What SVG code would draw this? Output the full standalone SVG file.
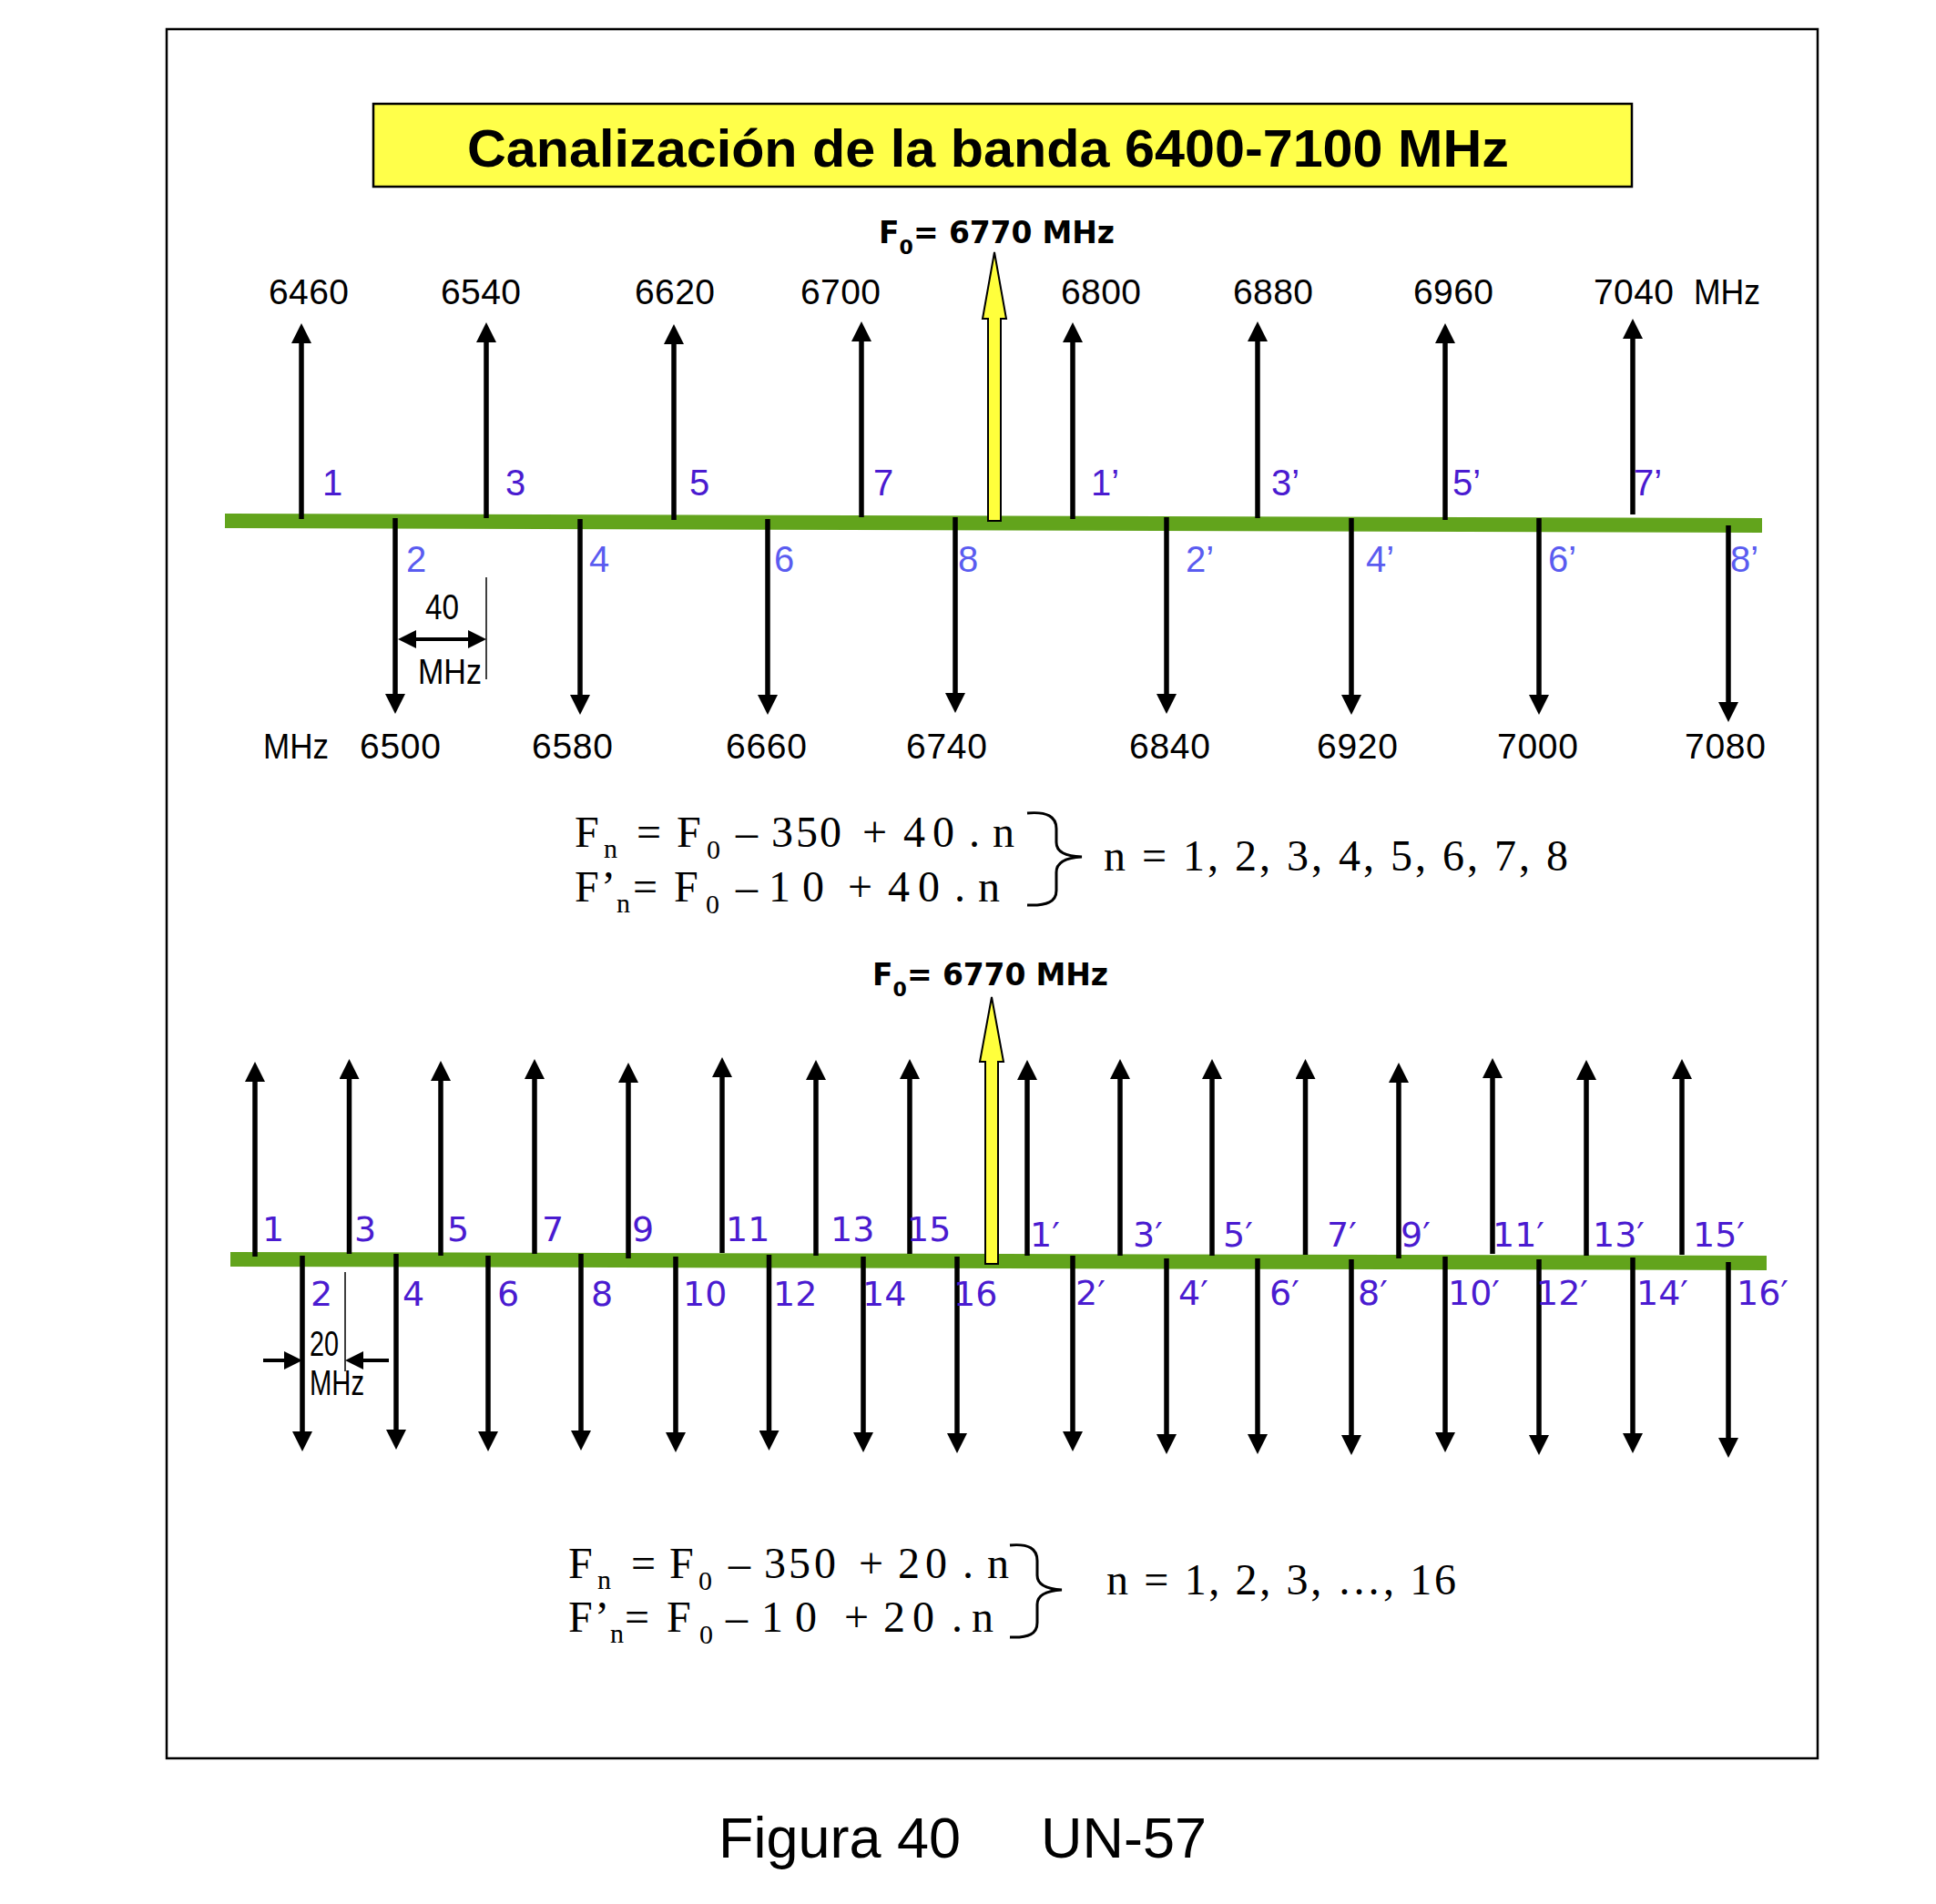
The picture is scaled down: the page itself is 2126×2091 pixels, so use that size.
<svg xmlns="http://www.w3.org/2000/svg" width="2126" height="2091" viewBox="0 0 2126 2091">
<style>
.ar{stroke:#000;stroke-width:5.5;marker-end:url(#ah);fill:none}
.gr{stroke:#62A41C;stroke-width:16;fill:none}
.fq{font-family:"Liberation Sans",Arial,sans-serif;font-size:39px;fill:#000}
.lt1{font-family:"Liberation Sans",Arial,sans-serif;font-size:40px;fill:#4A1BD0}
.lt2{font-family:"Liberation Sans",Arial,sans-serif;font-size:40px;fill:#5A5CF0}
.lb{font-family:"DejaVu Sans",Verdana,sans-serif;font-size:38px;fill:#4A1BD0}
.fm{font-family:"Liberation Serif","Times New Roman",serif;font-size:48px;fill:#000}
.sub{font-size:30px}
.dim{stroke:#000;stroke-width:4;fill:none}
.thin{stroke:#000;stroke-width:1.5;fill:none}
.yl{fill:#FFFF3C;stroke:#000;stroke-width:2}
.f0{font-family:"DejaVu Sans",Verdana,sans-serif;font-weight:bold;font-size:33px;fill:#000}
.br{stroke:#000;stroke-width:3;fill:none}
</style>
<defs>
<marker id="ah" markerUnits="userSpaceOnUse" viewBox="0 0 22 22" markerWidth="22" markerHeight="22" refX="4" refY="11" orient="auto"><path d="M0,0 L22,11 L0,22 z" fill="#000"/></marker>
<marker id="ah2" markerUnits="userSpaceOnUse" viewBox="0 0 20 20" markerWidth="20" markerHeight="20" refX="4" refY="10" orient="auto-start-reverse"><path d="M0,0 L20,10 L0,20 z" fill="#000"/></marker>
</defs>
<rect width="2126" height="2091" fill="#fff"/>
<rect id="frame" x="183" y="32" width="1813" height="1899" fill="none" stroke="#000" stroke-width="2.5"/>
<g id="title">
<rect x="410" y="114" width="1382" height="91" fill="#FFFF4A" stroke="#000" stroke-width="2.5"/>
<text x="513" y="183" font-family="Liberation Sans,Arial,sans-serif" font-weight="bold" font-size="58" textLength="1144" lengthAdjust="spacingAndGlyphs">Canalización de la banda 6400-7100 MHz</text>
</g>

<!-- TOP DIAGRAM -->
<g id="top-axis"><line class="gr" x1="247" y1="572" x2="1935" y2="577"/></g>
<g id="top-f0">
<polygon class="yl" points="1085,572 1085,350 1079,350 1092,277 1105,350 1099,350 1099,572"/>
<text class="f0" x="965" y="267">F<tspan font-size="22" y="279">0</tspan><tspan y="267" x="1003" textLength="221" lengthAdjust="spacing">= 6770 MHz</tspan></text>
</g>
<g id="top-connectors">
<line class="ar" x1="331" y1="570" x2="331" y2="373"/>
<line class="ar" x1="534" y1="569" x2="534" y2="372"/>
<line class="ar" x1="740" y1="571" x2="740" y2="374"/>
<line class="ar" x1="946" y1="568" x2="946" y2="371"/>
<line class="ar" x1="1178" y1="570" x2="1178" y2="372"/>
<line class="ar" x1="1381" y1="569" x2="1381" y2="371"/>
<line class="ar" x1="1587" y1="571" x2="1587" y2="373"/>
<line class="ar" x1="1793" y1="565" x2="1793" y2="368"/>
<line class="ar" x1="434" y1="569" x2="434" y2="766"/>
<line class="ar" x1="637" y1="570" x2="637" y2="767"/>
<line class="ar" x1="843" y1="570" x2="843" y2="767"/>
<line class="ar" x1="1049" y1="568" x2="1049" y2="765"/>
<line class="ar" x1="1281" y1="568" x2="1281" y2="766"/>
<line class="ar" x1="1484" y1="569" x2="1484" y2="767"/>
<line class="ar" x1="1690" y1="569" x2="1690" y2="767"/>
<line class="ar" x1="1898" y1="577" x2="1898" y2="775"/>
</g>
<g id="top-channels">
<g id="t1"><text class="lt1" x="354" y="544">1</text><text class="fq" x="295" y="334" textLength="88">6460</text></g>
<g id="t3"><text class="lt1" x="555" y="544">3</text><text class="fq" x="484" y="334" textLength="88">6540</text></g>
<g id="t5"><text class="lt1" x="757" y="544">5</text><text class="fq" x="697" y="334" textLength="88">6620</text></g>
<g id="t7"><text class="lt1" x="959" y="544">7</text><text class="fq" x="879" y="334" textLength="88">6700</text></g>
<g id="t1p"><text class="lt1" x="1198" y="544">1’</text><text class="fq" x="1165" y="334" textLength="88">6800</text></g>
<g id="t3p"><text class="lt1" x="1396" y="544">3’</text><text class="fq" x="1354" y="334" textLength="88">6880</text></g>
<g id="t5p"><text class="lt1" x="1595" y="544">5’</text><text class="fq" x="1552" y="334" textLength="88">6960</text></g>
<g id="t7p"><text class="lt1" x="1794" y="544">7’</text><text class="fq" x="1750" y="334" textLength="88">7040</text><text class="fq" x="1860" y="334" textLength="73" lengthAdjust="spacingAndGlyphs">MHz</text></g>
<g id="t2"><text class="lt2" x="446" y="628">2</text><text class="fq" x="395" y="833" textLength="89">6500</text><text class="fq" x="289" y="833" textLength="72" lengthAdjust="spacingAndGlyphs">MHz</text></g>
<g id="t4"><text class="lt2" x="647" y="628">4</text><text class="fq" x="584" y="833" textLength="89">6580</text></g>
<g id="t6"><text class="lt2" x="850" y="628">6</text><text class="fq" x="797" y="833" textLength="89">6660</text></g>
<g id="t8"><text class="lt2" x="1052" y="628">8</text><text class="fq" x="995" y="833" textLength="89">6740</text></g>
<g id="t2p"><text class="lt2" x="1302" y="628">2’</text><text class="fq" x="1240" y="833" textLength="89">6840</text></g>
<g id="t4p"><text class="lt2" x="1500" y="628">4’</text><text class="fq" x="1446" y="833" textLength="89">6920</text></g>
<g id="t6p"><text class="lt2" x="1700" y="628">6’</text><text class="fq" x="1644" y="833" textLength="89">7000</text></g>
<g id="t8p"><text class="lt2" x="1900" y="628">8’</text><text class="fq" x="1850" y="833" textLength="89">7080</text></g>
</g>
<g id="top-spacing">
<line class="thin" x1="534" y1="634" x2="534" y2="746"/>
<line class="dim" x1="453" y1="702" x2="518" y2="702" marker-start="url(#ah2)" marker-end="url(#ah2)"/>
<text class="fq" x="467" y="680" font-size="37" textLength="37" lengthAdjust="spacingAndGlyphs">40</text>
<text class="fq" x="459" y="751" font-size="38" textLength="70" lengthAdjust="spacingAndGlyphs">MHz</text>
</g>
<g id="top-formula">
<text class="fm" y="930"><tspan x="631">F</tspan><tspan class="sub" x="663" y="942">n</tspan><tspan x="699" y="930">=</tspan><tspan x="743">F</tspan><tspan class="sub" x="776" y="943">0</tspan><tspan x="808" y="930">–</tspan><tspan x="847 874 900">350</tspan><tspan x="947">+</tspan><tspan x="992 1024">40</tspan><tspan x="1064">.</tspan><tspan x="1090">n</tspan></text>
<text class="fm" y="990"><tspan x="631">F</tspan><tspan x="660">’</tspan><tspan class="sub" x="677" y="1002">n</tspan><tspan x="695" y="990">=</tspan><tspan x="740">F</tspan><tspan class="sub" x="775" y="1003">0</tspan><tspan x="808" y="990">–</tspan><tspan x="844 881">10</tspan><tspan x="931">+</tspan><tspan x="975 1008">40</tspan><tspan x="1048">.</tspan><tspan x="1074">n</tspan></text>
<path class="br" d="M1128,893 C1150,891 1160,897 1160,910 L1160,925 C1160,936 1170,940 1188,941 C1170,942 1160,947 1160,958 L1160,978 C1160,990 1150,995 1128,994"/>
<text class="fm" x="1212" y="956" textLength="510" lengthAdjust="spacing">n = 1, 2, 3, 4, 5, 6, 7, 8</text>
</g>

<!-- BOTTOM DIAGRAM -->
<g id="bot-axis"><line class="gr" x1="253" y1="1383" x2="1940" y2="1387"/></g>
<g id="bot-f0">
<polygon class="yl" points="1082,1388 1082,1166 1076,1166 1089,1095 1102,1166 1096,1166 1096,1388"/>
<text class="f0" x="958" y="1082">F<tspan font-size="22" y="1094">0</tspan><tspan y="1082" x="996" textLength="221" lengthAdjust="spacing">= 6770 MHz</tspan></text>
</g>
<g id="bot-connectors">
<line class="ar" x1="280" y1="1380" x2="280" y2="1184"/>
<line class="ar" x1="383.5" y1="1377" x2="383.5" y2="1181"/>
<line class="ar" x1="484" y1="1379" x2="484" y2="1183"/>
<line class="ar" x1="587" y1="1377" x2="587" y2="1181"/>
<line class="ar" x1="690" y1="1382" x2="690" y2="1185"/>
<line class="ar" x1="793" y1="1376" x2="793" y2="1179"/>
<line class="ar" x1="896" y1="1379" x2="896" y2="1182"/>
<line class="ar" x1="999" y1="1377" x2="999" y2="1181"/>
<line class="ar" x1="1128" y1="1379" x2="1128" y2="1182"/>
<line class="ar" x1="1230" y1="1379" x2="1230" y2="1181"/>
<line class="ar" x1="1331" y1="1379" x2="1331" y2="1181"/>
<line class="ar" x1="1433.5" y1="1378" x2="1433.5" y2="1181"/>
<line class="ar" x1="1536" y1="1382" x2="1536" y2="1185"/>
<line class="ar" x1="1639" y1="1377" x2="1639" y2="1180"/>
<line class="ar" x1="1742" y1="1379" x2="1742" y2="1182"/>
<line class="ar" x1="1847" y1="1378" x2="1847" y2="1181"/>
<line class="ar" x1="332" y1="1379" x2="332" y2="1576"/>
<line class="ar" x1="435" y1="1377" x2="435" y2="1574"/>
<line class="ar" x1="536" y1="1379" x2="536" y2="1576"/>
<line class="ar" x1="638" y1="1377" x2="638" y2="1575"/>
<line class="ar" x1="742" y1="1380" x2="742" y2="1577"/>
<line class="ar" x1="844.5" y1="1378" x2="844.5" y2="1575"/>
<line class="ar" x1="948" y1="1380" x2="948" y2="1577"/>
<line class="ar" x1="1051" y1="1380" x2="1051" y2="1578"/>
<line class="ar" x1="1178" y1="1379" x2="1178" y2="1576"/>
<line class="ar" x1="1281" y1="1382" x2="1281" y2="1579"/>
<line class="ar" x1="1381" y1="1382" x2="1381" y2="1579"/>
<line class="ar" x1="1484" y1="1383" x2="1484" y2="1580"/>
<line class="ar" x1="1587" y1="1380" x2="1587" y2="1577"/>
<line class="ar" x1="1690" y1="1383" x2="1690" y2="1580"/>
<line class="ar" x1="1793" y1="1381" x2="1793" y2="1578"/>
<line class="ar" x1="1898" y1="1386" x2="1898" y2="1583"/>
</g>
<g id="bot-channels">
<text id="b1" class="lb" x="288" y="1363">1</text>
<text id="b3" class="lb" x="389" y="1363">3</text>
<text id="b5" class="lb" x="491" y="1363">5</text>
<text id="b7" class="lb" x="595" y="1363">7</text>
<text id="b9" class="lb" x="694" y="1363">9</text>
<text id="b11" class="lb" x="797" y="1363">11</text>
<text id="b13" class="lb" x="912" y="1363">13</text>
<text id="b15" class="lb" x="996" y="1363">15</text>
<text id="b1p" class="lb" x="1131" y="1369">1′</text>
<text id="b3p" class="lb" x="1244" y="1369">3′</text>
<text id="b5p" class="lb" x="1343" y="1369">5′</text>
<text id="b7p" class="lb" x="1457" y="1369">7′</text>
<text id="b9p" class="lb" x="1538" y="1369">9′</text>
<text id="b11p" class="lb" x="1639" y="1369">11′</text>
<text id="b13p" class="lb" x="1749" y="1369">13′</text>
<text id="b15p" class="lb" x="1859" y="1369">15′</text>
<text id="b2" class="lb" x="341" y="1434">2</text>
<text id="b4" class="lb" x="442" y="1434">4</text>
<text id="b6" class="lb" x="546" y="1434">6</text>
<text id="b8" class="lb" x="649" y="1434">8</text>
<text id="b10" class="lb" x="750" y="1434">10</text>
<text id="b12" class="lb" x="849" y="1434">12</text>
<text id="b14" class="lb" x="947" y="1434">14</text>
<text id="b16" class="lb" x="1047" y="1434">16</text>
<text id="b2p" class="lb" x="1181" y="1433">2′</text>
<text id="b4p" class="lb" x="1294" y="1433">4′</text>
<text id="b6p" class="lb" x="1394" y="1433">6′</text>
<text id="b8p" class="lb" x="1491" y="1433">8′</text>
<text id="b10p" class="lb" x="1590" y="1433">10′</text>
<text id="b12p" class="lb" x="1687" y="1433">12′</text>
<text id="b14p" class="lb" x="1797" y="1433">14′</text>
<text id="b16p" class="lb" x="1907" y="1433">16′</text>
</g>
<g id="bot-spacing">
<line class="thin" x1="379" y1="1397" x2="379" y2="1506"/>
<line class="dim" x1="289" y1="1494" x2="316" y2="1494" marker-end="url(#ah2)"/>
<line class="dim" x1="427" y1="1494" x2="395" y2="1494" marker-end="url(#ah2)"/>
<text class="fq" x="340" y="1489" font-size="29" textLength="32" lengthAdjust="spacingAndGlyphs">20</text>
<text class="fq" x="340" y="1532" font-size="29" textLength="60" lengthAdjust="spacingAndGlyphs">MHz</text>
</g>
<g id="bot-formula">
<text class="fm" y="1733"><tspan x="624">F</tspan><tspan class="sub" x="656" y="1745">n</tspan><tspan x="693" y="1733">=</tspan><tspan x="735">F</tspan><tspan class="sub" x="767" y="1746">0</tspan><tspan x="800" y="1733">–</tspan><tspan x="839 866 894">350</tspan><tspan x="943">+</tspan><tspan x="986 1016">20</tspan><tspan x="1057">.</tspan><tspan x="1084">n</tspan></text>
<text class="fm" y="1792"><tspan x="624">F</tspan><tspan x="653">’</tspan><tspan class="sub" x="670" y="1804">n</tspan><tspan x="686" y="1792">=</tspan><tspan x="732">F</tspan><tspan class="sub" x="768" y="1805">0</tspan><tspan x="797" y="1792">–</tspan><tspan x="836 873">10</tspan><tspan x="927">+</tspan><tspan x="970 1002">20</tspan><tspan x="1045">.</tspan><tspan x="1067">n</tspan></text>
<path class="br" d="M1109,1697 C1130,1695 1139,1701 1139,1714 L1139,1730 C1139,1740 1148,1745 1166,1746 C1148,1747 1139,1752 1139,1762 L1139,1782 C1139,1794 1130,1799 1109,1798"/>
<text class="fm" x="1215" y="1751" textLength="384" lengthAdjust="spacing">n = 1, 2, 3, …, 16</text>
</g>
<g id="caption">
<text x="789" y="2040" font-family="Liberation Sans,Arial,sans-serif" font-size="63">Figura 40</text>
<text x="1143" y="2040" font-family="Liberation Sans,Arial,sans-serif" font-size="63">UN-57</text>
</g>
</svg>
